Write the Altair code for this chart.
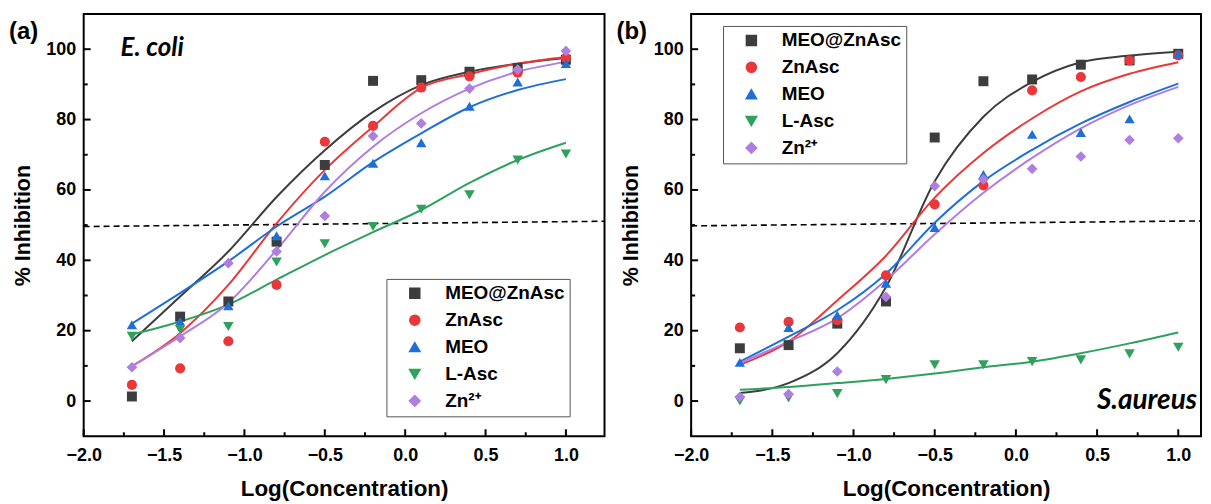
import altair as alt
import pandas as pd

# ---------------- data ----------------
SERIES = ["MEO@ZnAsc", "ZnAsc", "MEO", "L-Asc", "Zn²⁺"]
COLORS = ["#3d3d3d", "#e8383a", "#1f6fd6", "#2ea15c", "#b07de0"]
SHAPES = ["square", "circle", "triangle-up", "triangle-down", "diamond"]
SIZES = [100, 115, 170, 170, 150]

LOG_CONC = [-1.7, -1.4, -1.1, -0.8, -0.5, -0.2, 0.1, 0.4, 0.7, 1.0]

# (a) E. coli - measured points
A_MEOZN = [1.3, 24.0, 28.3, 45.3, 67.1, 91.0, 91.2, 93.6, 94.7, 97.0]
A_ZNASC = [4.6, 9.3, 17.0, 33.0, 73.7, 78.2, 89.1, 92.3, 93.3, 97.5]
A_MEO = [21.7, 22.6, 27.1, 47.0, 64.0, 67.6, 73.4, 83.8, 90.7, 95.9]
A_LASC = [18.4, 20.3, 21.2, 39.5, 44.7, 49.6, 54.5, 58.6, 68.5, 70.2]
A_ZN = [9.6, 17.9, 39.2, 42.5, 52.6, 75.3, 78.9, 88.8, 94.2, 99.5]
# (a) fitted curves
A_FIT_MEOZN = [17.0, 29.7, 42.5, 58.0, 71.3, 82.2, 89.8, 93.6, 95.9, 97.6]
A_FIT_ZNASC = [9.9, 19.3, 33.0, 50.5, 65.7, 78.0, 89.0, 92.9, 95.9, 97.8]
A_FIT_MEO = [22.0, 30.7, 39.7, 49.6, 58.1, 67.9, 76.1, 83.5, 88.4, 91.5]
A_FIT_LASC = [18.9, 22.6, 27.4, 34.5, 41.5, 48.0, 54.3, 62.0, 68.5, 73.4]
A_FIT_ZN = [9.9, 18.4, 27.9, 43.0, 59.5, 72.3, 81.8, 88.8, 93.6, 96.4]

# (b) S.aureus - measured points
B_MEOZN = [15.0, 15.9, 22.0, 28.3, 74.9, 90.9, 91.4, 95.6, 96.8, 98.7]
B_ZNASC = [20.9, 22.5, 23.0, 35.7, 55.9, 61.3, 88.3, 92.1, 96.8, 98.2]
B_MEO = [11.0, 20.9, 24.4, 33.5, 49.3, 64.4, 75.8, 76.3, 80.2, 98.7]
B_LASC = [0.0, 0.9, 2.1, 6.1, 10.3, 10.3, 11.2, 11.7, 13.4, 15.3]
B_ZN = [1.2, 2.0, 8.4, 29.6, 61.1, 63.0, 66.0, 69.5, 74.2, 74.7]
# (b) fitted curves
B_FIT_MEOZN = [2.3, 5.1, 13.6, 32.4, 62.5, 80.8, 90.7, 96.3, 98.2, 99.3]
B_FIT_ZNASC = [10.3, 16.9, 28.6, 41.3, 57.8, 70.5, 80.3, 88.0, 93.0, 96.3]
B_FIT_MEO = [11.2, 18.3, 25.8, 36.2, 50.7, 62.5, 71.4, 78.9, 85.0, 90.2]
B_FIT_LASC = [3.2, 4.0, 5.1, 6.3, 7.8, 9.6, 11.2, 13.6, 16.4, 19.5]
B_FIT_ZN = [10.8, 16.9, 23.5, 34.3, 47.4, 59.2, 69.1, 77.5, 84.1, 89.3]

# 50 % reference line (slightly tilted in the original)
A_DASH = {"x0": -2.0, "x1": 1.24, "y0": 49.6, "y1": 51.1}
B_DASH = {"x0": -2.0, "x1": 1.14, "y0": 49.8, "y1": 51.2}

X_TICKS = [-2.0, -1.5, -1.0, -0.5, 0.0, 0.5, 1.0]
X_MINOR = [-1.75, -1.25, -0.75, -0.25, 0.25, 0.75]
Y_TICKS = [0, 20, 40, 60, 80, 100]
Y_MINOR = [10, 30, 50, 70, 90]

FONT = "Liberation Sans"
H = 424


def long_df(vals):
    rows = []
    for s, v in zip(SERIES, vals):
        for x, y in zip(LOG_CONC, v):
            rows.append({"x": x, "y": y, "s": s})
    return pd.DataFrame(rows)


def panel(pts, fits, dash, xmax, width, lx, ly, tag, species, sp_x, sp_y, sp_size, sp_align):
    xs = alt.Scale(domain=[-2.0, xmax], nice=False, zero=False)
    ys = alt.Scale(domain=[-10, 110], nice=False, zero=False)
    xaxis = alt.Axis(values=X_TICKS, format=".1f", title="Log(Concentration)", ticks=False,
                     domain=False, grid=False, labelPadding=10, titlePadding=14,
                     labelFlush=False, titleFontSize=22.5)
    yaxis = alt.Axis(values=Y_TICKS, format="d", title="% Inhibition", ticks=False,
                     domain=False, grid=False, labelPadding=8, titlePadding=11,
                     labelFlush=False, titleFontSize=21.5)

    def X(f):
        return alt.X(f, type="quantitative", scale=xs, axis=xaxis)

    def Y(f):
        return alt.Y(f, type="quantitative", scale=ys, axis=yaxis)

    cscale = alt.Scale(domain=SERIES, range=COLORS)
    sscale = alt.Scale(domain=SERIES, range=SHAPES)
    zscale = alt.Scale(domain=SERIES, range=SIZES)
    legend = alt.Legend(title=None, orient="none", legendX=lx, legendY=ly,
                        strokeColor="#555555", fillColor="white", padding=5,
                        symbolOffset=14, labelOffset=21, rowPadding=7, symbolSize=95,
                        labelFont=FONT, labelFontSize=19, labelFontWeight="bold",
                        labelColor="black", labelLimit=400)

    lines = alt.Chart(fits).mark_line(strokeWidth=2, interpolate="monotone").encode(
        x=X("x"), y=Y("y"),
        color=alt.Color("s:N", scale=cscale, legend=legend, sort=SERIES),
    )
    points = alt.Chart(pts).mark_point(filled=True, opacity=1).encode(
        x=X("x"), y=Y("y"),
        color=alt.Color("s:N", scale=cscale, legend=legend, sort=SERIES),
        shape=alt.Shape("s:N", scale=sscale, legend=legend, sort=SERIES),
        size=alt.Size("s:N", scale=zscale, legend=None, sort=SERIES),
    )
    dash_line = alt.Chart(pd.DataFrame([dash])).mark_rule(
        strokeDash=[6, 4], strokeWidth=1.6, color="black").encode(
        x=X("x0"), x2="x1", y=Y("y0"), y2="y1")

    xt_major = alt.Chart(pd.DataFrame({"x": X_TICKS})).mark_rule(color="black", strokeWidth=2).encode(
        x=X("x"), y=alt.value(H), y2=alt.value(H - 7))
    xt_minor = alt.Chart(pd.DataFrame({"x": X_MINOR})).mark_rule(color="black", strokeWidth=2).encode(
        x=X("x"), y=alt.value(H), y2=alt.value(H - 4))
    yt_major = alt.Chart(pd.DataFrame({"y": Y_TICKS})).mark_rule(color="black", strokeWidth=2).encode(
        y=Y("y"), x=alt.value(0), x2=alt.value(7))
    yt_minor = alt.Chart(pd.DataFrame({"y": Y_MINOR})).mark_rule(color="black", strokeWidth=2).encode(
        y=Y("y"), x=alt.value(0), x2=alt.value(4))

    tag_txt = alt.Chart(pd.DataFrame({"t": [tag]})).mark_text(
        align="left", baseline="alphabetic", font=FONT, fontSize=24, fontWeight="bold",
        color="black").encode(text="t:N", x=alt.value(-75), y=alt.value(25))
    sp_txt = alt.Chart(pd.DataFrame({"t": [species]})).mark_text(
        align=sp_align, baseline="alphabetic", font="Lato", fontSize=sp_size, fontWeight="bold",
        fontStyle="italic", color="black").encode(text="t:N", x=alt.value(sp_x), y=alt.value(sp_y))

    return alt.layer(dash_line, lines, points, xt_major, xt_minor, yt_major, yt_minor,
                     tag_txt, sp_txt).properties(width=width, height=H)


pa = panel(long_df([A_MEOZN, A_ZNASC, A_MEO, A_LASC, A_ZN]),
           long_df([A_FIT_MEOZN, A_FIT_ZNASC, A_FIT_MEO, A_FIT_LASC, A_FIT_ZN]),
           A_DASH, 1.24, 523, 304, 266, "(a)", "E. coli", 37, 42, 26, "left")
pb = panel(long_df([B_MEOZN, B_ZNASC, B_MEO, B_LASC, B_ZN]),
           long_df([B_FIT_MEOZN, B_FIT_ZNASC, B_FIT_MEO, B_FIT_LASC, B_FIT_ZN]),
           B_DASH, 1.14, 512, 32, 12, "(b)", "S.aureus", 508, 397, 28, "right")

chart = alt.hconcat(pa, pb, spacing=87, bounds="flush").resolve_scale(
    color="independent", shape="independent", size="independent"
).properties(
    padding={"left": 0, "top": 4, "right": 0, "bottom": 0}
).configure_view(
    stroke="black", strokeWidth=2
).configure_axis(
    labelFont=FONT, labelFontSize=18, labelFontWeight="bold", labelColor="black",
    titleFont=FONT, titleFontSize=21, titleFontWeight="bold", titleColor="black"
)

chart.save("out.html", embed_options={"renderer": "svg", "actions": False})
